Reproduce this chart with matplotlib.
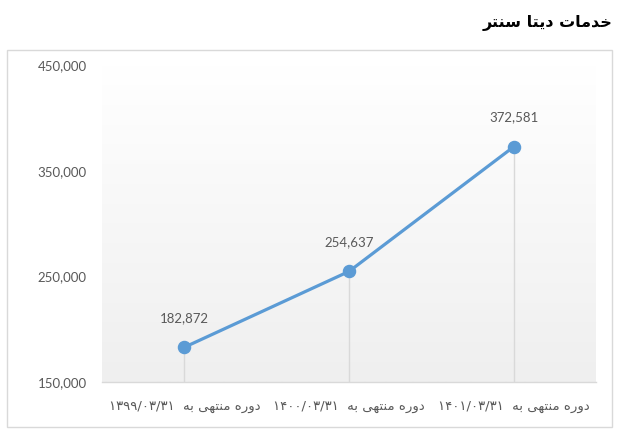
import numpy as np
import matplotlib
matplotlib.use("Agg")
import matplotlib.pyplot as plt
from matplotlib.patches import Rectangle
from matplotlib.colors import LinearSegmentedColormap

# ---- data ----
title_text = "خدمات دیتا سنتر"
label_prefix = "دوره منتهی به"
dates = ["۱۳۹۹/۰۳/۳۱", "۱۴۰۰/۰۳/۳۱", "۱۴۰۱/۰۳/۳۱"]
values = [182872, 254637, 372581]
y_ticks = [150000, 250000, 350000, 450000]

# ---- minimal Arabic-script shaping (presentation forms) ----
FORMS = {
    "د": (0xFEA9, 0xFEAA, None, None),
    "و": (0xFEED, 0xFEEE, None, None),
    "ر": (0xFEAD, 0xFEAE, None, None),
    "ا": (0xFE8D, 0xFE8E, None, None),
    "ه": (0xFEE9, 0xFEEA, 0xFEEB, 0xFEEC),
    "م": (0xFEE1, 0xFEE2, 0xFEE3, 0xFEE4),
    "ن": (0xFEE5, 0xFEE6, 0xFEE7, 0xFEE8),
    "ت": (0xFE95, 0xFE96, 0xFE97, 0xFE98),
    "ب": (0xFE8F, 0xFE90, 0xFE91, 0xFE92),
    "س": (0xFEB1, 0xFEB2, 0xFEB3, 0xFEB4),
    "خ": (0xFEA5, 0xFEA6, 0xFEA7, 0xFEA8),
    "ی": (0xFEEF, 0xFEF0, 0xFEF3, 0xFEF4),
}


def shape(text):
    out = []
    n = len(text)
    for i, ch in enumerate(text):
        if ch not in FORMS:
            out.append(ch)
            continue
        iso, fin, ini, med = FORMS[ch]
        prev = text[i - 1] if i > 0 else None
        nxt = text[i + 1] if i + 1 < n else None
        prev_j = prev in FORMS and FORMS[prev][2] is not None
        next_j = ini is not None and nxt in FORMS
        if prev_j and next_j:
            cp = med
        elif prev_j:
            cp = fin
        elif next_j:
            cp = ini
        else:
            cp = iso
        out.append(chr(cp))
    return "".join(out)


def rtl(text):
    return shape(text)[::-1]


xlabels = [d + "  " + rtl(label_prefix) for d in dates]

# ---- figure ----
W, H = 619, 441
fig = plt.figure(figsize=(W / 100, H / 100), dpi=100)
fig.patch.set_facecolor("white")

# outer frame
fig.patches.append(Rectangle((7 / W, 1 - 427 / H), 605 / W, 377 / H,
                             transform=fig.transFigure, fill=False,
                             edgecolor="#d9d9d9", linewidth=1.0))

ax = fig.add_axes([102 / W, 1 - 382 / H, (596 - 102) / W, (382 - 65) / H])
x = np.arange(len(values))
ax.set_xlim(-0.5, len(values) - 0.5)
ax.set_ylim(y_ticks[0], y_ticks[-1])

# gradient background
grad = np.linspace(1.0, 0.0, 256).reshape(-1, 1)
cmap = LinearSegmentedColormap.from_list("g", ["#efefef", "#ffffff"])
ax.imshow(grad, aspect="auto", cmap=cmap, origin="upper",
          extent=[-0.5, len(values) - 0.5, y_ticks[0], y_ticks[-1]],
          zorder=0, vmin=0, vmax=1)
ax.set_facecolor("white")

for s in ["top", "right", "left"]:
    ax.spines[s].set_visible(False)
ax.spines["bottom"].set_color("#d9d9d9")
ax.spines["bottom"].set_linewidth(1.0)

# drop lines
ax.vlines(x, y_ticks[0], values, colors="#d9d9d9", linewidth=1.0, zorder=1)

ax.plot(x, values, color="#5B9BD5", linewidth=2.3, marker="o",
        markersize=8.7, markerfacecolor="#5B9BD5", markeredgecolor="#5B9BD5",
        zorder=3)

for xi, v in zip(x, values):
    ax.annotate(f"{v:,}", (xi, v), xytext=(0, 21), textcoords="offset points",
                ha="center", va="center", fontsize=9.5, color="#595959",
                family="Lato")

ax.set_yticks(y_ticks)
ax.set_yticklabels([f"{t:,}" for t in y_ticks], family="Lato", fontsize=9.5,
                   color="#595959")
ax.tick_params(axis="y", length=0, pad=11)
ax.set_xticks(x)
ax.set_xticklabels(xlabels, family="DejaVu Sans", fontsize=9.5, color="#595959")
ax.tick_params(axis="x", length=0, pad=13)

fig.text(613 / W, 1 - 23 / H, rtl(title_text), ha="right", va="center",
         fontsize=11.5, fontweight="bold", family="DejaVu Sans", color="black")

fig.savefig("out.png", dpi=100)
